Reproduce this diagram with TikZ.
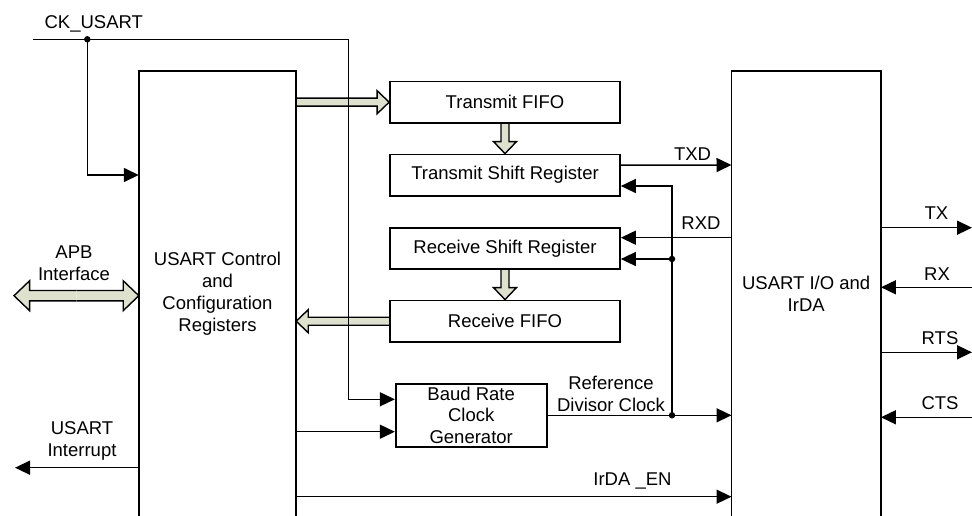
\documentclass[tikz,border=0pt]{standalone}
\usepackage{fontspec}
\setmainfont{Liberation Sans}
\usetikzlibrary{arrows.meta,calc,backgrounds}
\definecolor{busfill}{RGB}{221,225,205}

\newcommand\fatarrow[3][1]{%
  \pgfmathsetlengthmacro\fashaft{4pt*#1}%
  \pgfmathsetlengthmacro\fahead{11.5pt*#1}%
  \pgfmathsetlengthmacro\falen{12pt*#1}%
  \path (#2) coordinate (fa-s) (#3) coordinate (fa-e) ($(fa-e)!\falen!(fa-s)$) coordinate (fa-h);
  \filldraw[fat] ($(fa-s)!\fashaft!90:(fa-e)$) -- ($(fa-h)!\fashaft!90:(fa-e)$) -- ($(fa-h)!\fahead!90:(fa-e)$) -- (fa-e)
    -- ($(fa-h)!\fahead!-90:(fa-e)$) -- ($(fa-h)!\fashaft!-90:(fa-e)$) -- ($(fa-s)!\fashaft!-90:(fa-e)$);}

\begin{document}
\begin{tikzpicture}[
x=1pt, y=-1pt,
font=\fontsize{18.5}{22}\selectfont,
every node/.style={inner sep=0pt},
block/.style={draw, line width=1.7pt, minimum width=230pt, minimum height=41.5pt},
tall/.style={minimum height=445pt, align=center},
wire/.style={line width=1.5pt},
sig/.style={wire, -{Triangle[length=15pt,width=14pt]}},
fat/.style={draw, fill=busfill, line width=1.4pt, line join=miter},
dot/.style={circle, fill, minimum size=6.5pt},
lbl/.style={align=center}
]
\useasboundingbox (0,0) rectangle (972,516);

\node[tall, minimum width=157pt] (ctrl) at (217.5,293.5) {USART Control\\and\\Configuration\\Registers};
\node[tall, minimum width=149pt] (io) at (806.2,293.5) {USART I/O and\\IrDA};
\node[block] (tfifo) at (505,102.2) {Transmit FIFO};
\node[block] (tsr) at (505,175.2) {Transmit Shift Register};
\node[block] (rsr) at (505,248.5) {Receive Shift Register};
\node[block] (rfifo) at (505,321.2) {Receive FIFO};
\node[block, minimum width=151pt, minimum height=62.7pt, align=center,
  font=\fontsize{18.5}{21.7}\selectfont] (baud) at (471.2,415.3) {Baud Rate\\Clock\\Generator};

\draw[line width=1.7pt] (ctrl.south west) -- (ctrl.north west) -- (ctrl.north east) -- (ctrl.south east);
\draw[line width=1.7pt] (io.south west) -- (io.north west) -- (io.north east) -- (io.south east);

\node (cklbl) at (93.8,24) {CK\_USART};
\node (txdlbl) at (692.5,154) {TXD};
\node (rxdlbl) at (701,223) {RXD};
\node[lbl] (reflbl) at (611,393.5) {Reference\\Divisor Clock};
\node (irdalbl) at (632.5,480.7) {IrDA \_EN};
\node (txlbl) at (936.5,213) {TX};
\node (rxlbl) at (937,274) {RX};
\node (rtslbl) at (940,338) {RTS};
\node (ctslbl) at (940,402.7) {CTS};
\node[lbl] (apblbl) at (74,263.3) {APB\\Interface};
\node[lbl] (intlbl) at (82,440.8) {USART\\Interrupt};

\node[dot] (ckdot) at (87.3,39.3) {};
\node[dot] (rxdot) at (672,259) {};
\node[dot] (refdot) at (672,415.3) {};

\coordinate (ckin) at (33,39.3);
\coordinate (ckturn) at (348.7,39.3);
\coordinate (apbend) at (14,295.7);
\coordinate (apbmid) at (76.5,295.7);
\coordinate (intend) at (15,467.7);
\coordinate (txend) at (972,227.7);
\coordinate (rxend) at (972,287.3);
\coordinate (rtsend) at (972,352.3);
\coordinate (ctsend) at (972,417.3);

\begin{scope}[on background layer]
\fatarrow{ctrl.east |- tfifo}{tfifo.west}
\fatarrow{tfifo.south}{tsr.north}
\fatarrow{rsr.south}{rfifo.north}
\fatarrow{rfifo.west}{ctrl.east |- rfifo}
\fatarrow[1.3]{apbmid}{apbend}
\fatarrow[1.3]{apbmid}{ctrl.west |- apbmid}
\end{scope}

\draw[wire] (ckin) -- (ckturn);
\draw[sig] (ckturn) |- ([yshift=16pt]baud.west);
\draw[sig] (ckdot.center) |- (ctrl.west |- 0,175);
\draw[sig] ([yshift=10pt]tsr.east) -- (io.west |- 0,165);
\draw[sig] (refdot.center) |- (tsr.east |- 0,186);
\draw[sig] (io.west |- 0,237.7) -- (rsr.east |- 0,237.7);
\draw[sig] (rxdot.center) -- (rsr.east |- rxdot);
\draw[sig] (baud.east) -- (io.west |- baud.east);
\draw[sig] (ctrl.east |- 0,431.7) -- (baud.west |- 0,431.7);
\draw[sig] (ctrl.east |- 0,496.7) -- (io.west |- 0,496.7);
\draw[sig] (io.east |- txend) -- (txend);
\draw[sig] (rxend) -- (io.east |- rxend);
\draw[sig] (io.east |- rtsend) -- (rtsend);
\draw[sig] (ctsend) -- (io.east |- ctsend);
\draw[sig] (ctrl.west |- intend) -- (intend);
\end{tikzpicture}
\end{document}
